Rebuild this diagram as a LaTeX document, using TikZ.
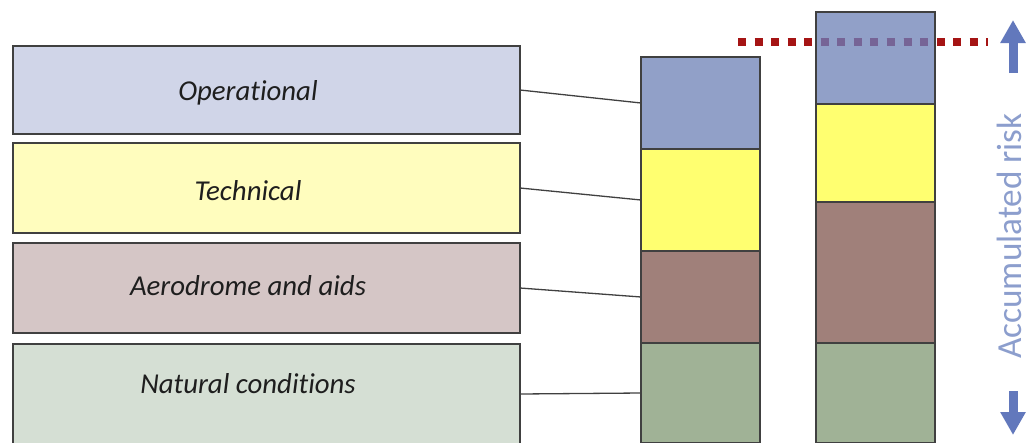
\documentclass[tikz,border=0pt]{standalone}
\usepackage{fontspec}
\setmainfont{Carlito}[Ligatures=NoCommon]
\usetikzlibrary{arrows.meta}
\definecolor{opsL}{RGB}{208,213,232}
\definecolor{tecL}{RGB}{255,253,190}
\definecolor{aerL}{RGB}{213,198,198}
\definecolor{natL}{RGB}{213,223,212}
\definecolor{opsB}{RGB}{145,160,200}
\definecolor{tecB}{RGB}{255,255,112}
\definecolor{aerB}{RGB}{160,128,122}
\definecolor{natB}{RGB}{160,178,150}
\definecolor{edgec}{RGB}{64,64,64}
\definecolor{riskred}{RGB}{165,20,20}
\definecolor{riskpurp}{RGB}{118,100,150}
\definecolor{arrowc}{RGB}{98,120,188}
\definecolor{axtext}{RGB}{140,158,205}
\definecolor{labtext}{RGB}{30,30,30}
\tikzset{
  catbox/.style={draw=edgec, line width=1.5pt, inner sep=0pt, outer sep=0pt, minimum width=507pt},
  catlabel/.style={anchor=base, inner sep=0pt, text=labtext, font=\fontsize{28.8}{34}\selectfont\itshape},
  seg/.style={draw=edgec, line width=1.5pt, inner sep=0pt, outer sep=0pt, minimum width=119pt},
  link/.style={draw=edgec, line width=1.3pt},
  riskline/.style={line width=8pt, dash pattern=on 8pt off 8.55pt},
  bigarrow/.style={draw=arrowc, line width=9pt, -{Triangle[width=24pt,length=23pt]}}
}
\begin{document}
\begin{tikzpicture}[x=1pt,y=-1pt]
\useasboundingbox (0,0) rectangle (1027,442);
\clip (0,0) rectangle (1027,442);
% left category boxes
\node[catbox, fill=opsL, minimum height=88pt] (ops) at (266.5,90) {};
\node[catbox, fill=tecL, minimum height=90pt] (tec) at (266.5,188) {};
\node[catbox, fill=aerL, minimum height=90pt] (aer) at (266.5,288) {};
\node[catbox, fill=natL, minimum height=100pt] (nat) at (266.5,394) {};
\node[catlabel] (opsT) at (248,100) {Operational};
\node[catlabel] (tecT) at (248,200) {Technical};
\node[catlabel] (aerT) at (248,295) {Aerodrome and aids};
\node[catlabel] (natT) at (248,393) {Natural conditions};
% bar 1
\node[seg, fill=opsB, minimum height=92pt] (a1) at (700.5,103) {};
\node[seg, fill=tecB, minimum height=102pt] (a2) at (700.5,200) {};
\node[seg, fill=aerB, minimum height=92pt] (a3) at (700.5,297) {};
\node[seg, fill=natB, minimum height=100pt] (a4) at (700.5,393) {};
% bar 2
\node[seg, fill=opsB, minimum height=92pt] (b1) at (875.5,58) {};
\node[seg, fill=tecB, minimum height=98pt] (b2) at (875.5,153) {};
\node[seg, fill=aerB, minimum height=141pt] (b3) at (875.5,272.5) {};
\node[seg, fill=natB, minimum height=100pt] (b4) at (875.5,393) {};
% connectors
\draw[link] (ops.east) -- (a1.west);
\draw[link] (tec.east) -- (a2.west);
\draw[link] (aer.east) -- (a3.west);
\draw[link] (nat.east) -- (a4.west);
% risk threshold line
\coordinate (r1) at (738,42);
\coordinate (r2) at (988,42);
\draw[riskline, draw=riskred] (r1) -- (r2);
\begin{scope}
\clip (b1.north west) rectangle (b1.south east);
\draw[riskline, draw=riskpurp] (r1) -- (r2);
\end{scope}
\draw[edgec, line width=1.5pt] (b1.north west) rectangle (b1.south east);
% accumulated risk axis
\coordinate (u1) at (1013,73);
\coordinate (u2) at (1013,20);
\coordinate (d1) at (1013,391);
\coordinate (d2) at (1013,435);
\draw[bigarrow] (u1) -- (u2);
\draw[bigarrow] (d1) -- (d2);
\node[rotate=90, anchor=base, inner sep=0pt, text=axtext, font=\fontsize{35.2}{42}\selectfont] (axis) at (1021,236) {Accumulated risk};
\end{tikzpicture}
\end{document}
